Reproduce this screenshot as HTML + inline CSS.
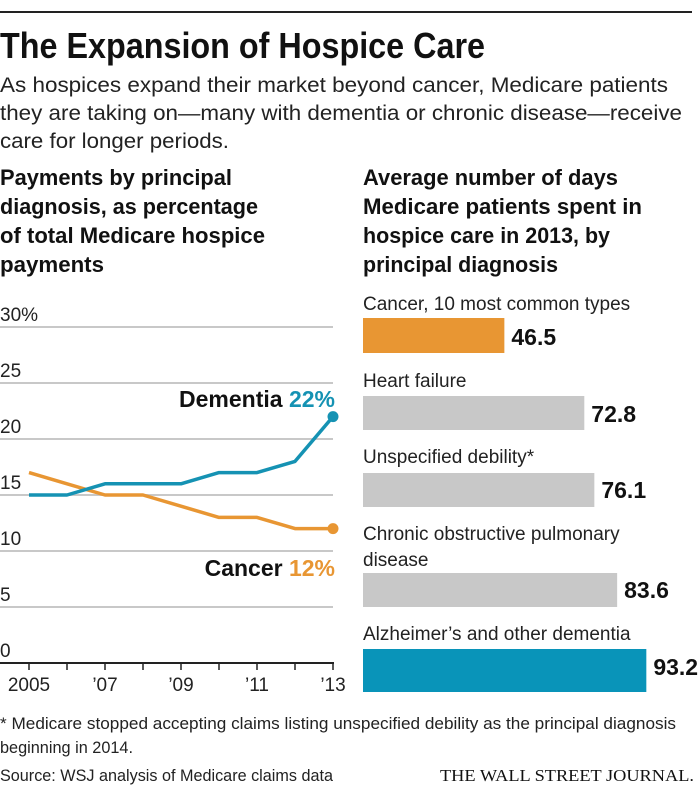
<!DOCTYPE html>
<html><head><meta charset="utf-8"><style>
html,body{margin:0;padding:0;background:#fff;}
svg{display:block;font-family:"Liberation Sans Narrow","Liberation Sans",sans-serif;}
</style></head><body>
<svg id="chart" width="700" height="788" viewBox="0 0 700 788">
<line x1="0" y1="12" x2="692" y2="12" stroke="#222" stroke-width="2"/>
<text x="0" y="58" font-size="36" font-weight="bold" fill="#111" textLength="485" lengthAdjust="spacingAndGlyphs">The Expansion of Hospice Care</text>
<g font-size="21" fill="#222">
<text x="0" y="92" textLength="668" lengthAdjust="spacingAndGlyphs">As hospices expand their market beyond cancer, Medicare patients</text>
<text x="0" y="120" textLength="682" lengthAdjust="spacingAndGlyphs">they are taking on—many with dementia or chronic disease—receive</text>
<text x="0" y="148" textLength="229" lengthAdjust="spacingAndGlyphs">care for longer periods.</text>
</g>
<g font-size="22" font-weight="bold" fill="#111">
<text x="0" y="185" textLength="232" lengthAdjust="spacingAndGlyphs">Payments by principal</text>
<text x="0" y="214" textLength="258" lengthAdjust="spacingAndGlyphs">diagnosis, as percentage</text>
<text x="0" y="243" textLength="265" lengthAdjust="spacingAndGlyphs">of total Medicare hospice</text>
<text x="0" y="272" textLength="104" lengthAdjust="spacingAndGlyphs">payments</text>
</g>
<g font-size="22" font-weight="bold" fill="#111">
<text x="363" y="185" textLength="255" lengthAdjust="spacingAndGlyphs">Average number of days</text>
<text x="363" y="214" textLength="279" lengthAdjust="spacingAndGlyphs">Medicare patients spent in</text>
<text x="363" y="243" textLength="247" lengthAdjust="spacingAndGlyphs">hospice care in 2013, by</text>
<text x="363" y="272" textLength="195" lengthAdjust="spacingAndGlyphs">principal diagnosis</text>
</g>
<g id="line"></g>
<g id="bars"></g>
<g font-size="17" fill="#222">
<text x="0" y="729" textLength="676" lengthAdjust="spacingAndGlyphs">* Medicare stopped accepting claims listing unspecified debility as the principal diagnosis</text>
<text x="0" y="753" textLength="133" lengthAdjust="spacingAndGlyphs">beginning in 2014.</text>
</g>
<text x="0" y="781" font-size="17" fill="#222" textLength="333" lengthAdjust="spacingAndGlyphs">Source: WSJ analysis of Medicare claims data</text>
<text x="694" y="781" text-anchor="end" font-family="Liberation Serif,serif" font-size="17" fill="#111" textLength="254" lengthAdjust="spacingAndGlyphs">THE WALL STREET JOURNAL.</text>
</svg>
<script>
const years = [2005,2006,2007,2008,2009,2010,2011,2012,2013];
const dementia = [15,15,16,16,16,17,17,18,22];
const cancer = [17,16,15,15,14,13,13,12,12];
const yTicks = [0,5,10,15,20,25,30];
const yTickLabels = ["0","5","10","15","20","25","30%"];
const xTickLabels = {2005:"2005",2007:"’07",2009:"’09",2011:"’11",2013:"’13"};

const barCats = ["Cancer, 10 most common types","Heart failure","Unspecified debility*","Chronic obstructive pulmonary|disease","Alzheimer’s and other dementia"];
const barVals = [46.5,72.8,76.1,83.6,93.2];
const barLabels = ["46.5","72.8","76.1","83.6","93.2"];

const NS="http://www.w3.org/2000/svg";
function mk(tag,attrs,parent){const e=document.createElementNS(NS,tag);for(const k in attrs)e.setAttribute(k,attrs[k]);parent.appendChild(e);return e;}
const sx = y => 29 + (y-2005)*38;
const sy = v => 663 - v*11.2;

const L=document.getElementById('line');
yTicks.forEach((t,i)=>{
  if(t>0){const g=mk('line',{x1:0,x2:333,y1:sy(t),y2:sy(t),stroke:'#c8c8c8','stroke-width':2},L);
  
  }
  const tx=mk('text',{x:0,y:sy(t)-6,'font-size':19,fill:'#222'},L);tx.textContent=yTickLabels[i];
  
  
});
const ax=mk('line',{x1:0,x2:334,y1:663,y2:663,stroke:'#222','stroke-width':2},L);


years.forEach(y=>{
  const tk=mk('line',{x1:sx(y),x2:sx(y),y1:663,y2:670,stroke:'#222','stroke-width':1.5},L);
  
  
  if(xTickLabels[y]){const t=mk('text',{x:sx(y),y:691,'font-size':19,fill:'#222','text-anchor':y===2013?'middle':'middle'},L);t.textContent=xTickLabels[y];
  
  }
});
function series(vals,color,name){
  const p=mk('polyline',{points:vals.map((v,i)=>sx(years[i])+','+sy(v)).join(' '),fill:'none',stroke:color,'stroke-width':3.5,'stroke-linejoin':'round'},L);
  
  
  const c=mk('circle',{cx:sx(years[years.length-1]),cy:sy(vals[vals.length-1]),r:5.5,fill:color},L);
  
  
}
series(cancer,'#e89633','cancer');
series(dementia,'#1592b3','dementia');
function lab(x,y,name,val,color,dn){
  const t=mk('text',{x:x,y:y,'font-size':23,'font-weight':'bold','text-anchor':'end',fill:'#111'},L);
  
  
  t.appendChild(document.createTextNode(name+' '));
  const s=mk('tspan',{fill:color},t);s.textContent=val;
}
lab(335,407,'Dementia',dementia[dementia.length-1]+'%','#1592b3','dementia-label');
lab(335,576,'Cancer',cancer[cancer.length-1]+'%','#e89633','cancer-label');

const B=document.getElementById('bars');
const bx=v=>363+v*3.04;
const barTop=[318,396,473,573,649], barH=[35,34,34,34,43];
const labY=[310,387,463,540,640], valY=[345,422,498,598,675];
const colors=['#e89633','#c8c8c8','#c8c8c8','#c8c8c8','#0994b9'];
barCats.forEach((c,i)=>{
  c.split('|').forEach((line,j)=>{
    const t=mk('text',{x:363,y:labY[i]+j*26,'font-size':19,fill:'#222'},B);t.textContent=line;
    
    
  });
  const r=mk('rect',{x:363,y:barTop[i],width:bx(barVals[i])-363,height:barH[i],fill:colors[i]},B);
  
  
  const v=mk('text',{x:bx(barVals[i])+7,y:valY[i],'font-size':23,fill:'#111','font-weight':'bold'},B);v.textContent=barLabels[i];
  
  
});
</script>
</body></html>
